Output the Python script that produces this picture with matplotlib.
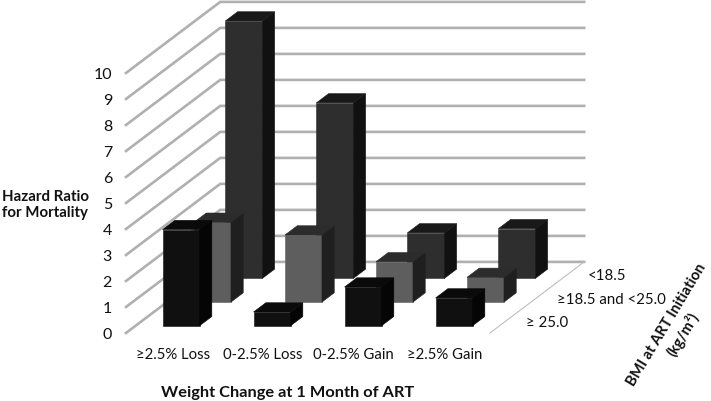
import matplotlib
matplotlib.use('Agg')
import matplotlib.pyplot as plt
from matplotlib.patches import Polygon

weight_change = ['≥2.5% Loss', '0-2.5% Loss', '0-2.5% Gain', '≥2.5% Gain']
bmi_groups = ['≥ 25.0', '≥18.5 and <25.0', '<18.5']
hr_bmi_high = [3.70, 0.53, 1.49, 1.07]
hr_bmi_mid = [3.07, 2.58, 1.55, 0.95]
hr_bmi_low = [9.90, 6.75, 1.75, 1.91]
y_ticks = [0, 1, 2, 3, 4, 5, 6, 7, 8, 9, 10]

plt.rcParams['font.family'] = ['Lato', 'DejaVu Sans']

# oblique projection, pixel layout of the chart box
X0, Y0 = 126, 334
CAT_W = 91
DEPTH_X, DEPTH_Y = 31.4, -23.7
UNIT = 26


def proj(cat, depth, val):
    return (X0 + cat * CAT_W + depth * DEPTH_X, Y0 + depth * DEPTH_Y - val * UNIT)


fig = plt.figure(figsize=(7.11, 4.02), dpi=100)
ax = fig.add_axes([0, 0, 1, 1])
ax.set_xlim(0, 711)
ax.set_ylim(402, 0)
ax.axis('off')

grid = '#b0b0b0'
n_cat = len(weight_change)
n_depth = len(bmi_groups)
for v in y_ticks:
    a = proj(0, 0, v)
    b = proj(0, n_depth, v)
    c = proj(n_cat, n_depth, v)
    ax.plot([a[0], b[0], c[0]], [a[1], b[1], c[1]], color=grid, lw=1.9, zorder=1,
            solid_joinstyle='miter')
    ax.text(112, a[1] + 1, str(v), ha='right', va='center', fontsize=11.5, color='#111111')

a = proj(n_cat, 0, 0)
b = proj(n_cat, n_depth, 0)
ax.plot([a[0], b[0]], [a[1], b[1]], color='#bdbdbd', lw=0.8, zorder=1)

series = [hr_bmi_low, hr_bmi_mid, hr_bmi_high]
depths = [2, 1, 0]
colors = [('#2e2e2e', '#111111', '#191919'),
          ('#5e5e5e', '#1f1f1f', '#2c2c2c'),
          ('#101010', '#050505', '#0a0a0a')]
bar_w = 37 / CAT_W
bar_d = 0.39


def draw_bar(cat, depth, val, cols, z):
    x1 = cat + (1 - bar_w) / 2
    x2 = x1 + bar_w
    d1 = depth + (1 - bar_d) / 2
    d2 = d1 + bar_d
    front = [proj(x1, d1, 0), proj(x2, d1, 0), proj(x2, d1, val), proj(x1, d1, val)]
    side = [proj(x2, d1, 0), proj(x2, d2, 0), proj(x2, d2, val), proj(x2, d1, val)]
    top = [proj(x1, d1, val), proj(x2, d1, val), proj(x2, d2, val), proj(x1, d2, val)]
    for pts, col in zip([front, side, top], cols):
        ax.add_patch(Polygon(pts, closed=True, fc=col, ec=col, lw=0.4, zorder=z))


z = 2
for vals, depth, cols in zip(series, depths, colors):
    for i, val in enumerate(vals):
        draw_bar(i, depth, val, cols, z)
        z += 1

cat_x = [173, 263, 353.5, 445]
for x, lab in zip(cat_x, weight_change):
    ax.text(x, 355, lab, ha='center', va='center', fontsize=10.7, color='#111111')

bmi_x = [526, 557, 588]
bmi_y = [323, 300, 276]
for x, y, lab in zip(bmi_x, bmi_y, bmi_groups):
    ax.text(x, y, lab, ha='left', va='center', fontsize=10.8, color='#111111')

ax.text(45, 205, 'Hazard Ratio\nfor Mortality', ha='center', va='center', fontsize=10.8,
        fontweight='bold', linespacing=1.25, color='#111111')
ax.text(288, 393, 'Weight Change at 1 Month of ART', ha='center', va='center', fontsize=11.8,
        fontweight='bold', color='#111111')
# two separate texts so the rotated box stays inside the figure
ax.text(667, 325, 'BMI at ART Initiation', ha='center', va='center', fontsize=10.6,
        fontweight='bold', rotation=59, rotation_mode='anchor', color='#111111')
ax.text(683, 334, '(kg/m²)', ha='center', va='center', fontsize=10.6,
        fontweight='bold', rotation=59, rotation_mode='anchor', color='#111111')

fig.savefig('out.png', dpi=100)
